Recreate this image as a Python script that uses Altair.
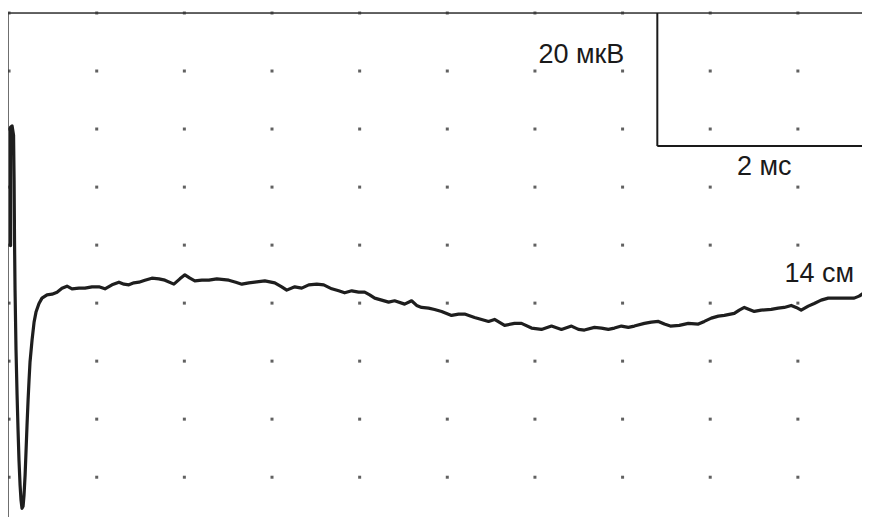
import altair as alt
import pandas as pd

# waveform: time (ms) and amplitude (µV)
wave_t = [0.014, 0.014, 0.028, 0.042, 0.047, 0.051, 0.056, 0.065, 0.075, 0.084, 0.093, 0.103,
          0.112, 0.121, 0.131, 0.140, 0.150, 0.159, 0.168, 0.178, 0.187, 0.196, 0.215, 0.234,
          0.252, 0.280, 0.308, 0.355, 0.402, 0.449, 0.495, 0.542, 0.589, 0.654, 0.710, 0.776,
          0.841, 0.897, 0.963, 1.028, 1.075, 1.121, 1.168, 1.215, 1.271, 1.336, 1.402, 1.458,
          1.542, 1.598, 1.645, 1.692, 1.738, 1.804, 1.869, 1.944, 2.056, 2.121, 2.178, 2.243,
          2.299, 2.393, 2.486, 2.551, 2.598, 2.673, 2.738, 2.804, 2.879, 2.944, 3.019, 3.084,
          3.140, 3.206, 3.271, 3.327, 3.374, 3.421, 3.486, 3.551, 3.607, 3.701, 3.766, 3.813,
          3.860, 3.925, 3.981, 4.047, 4.140, 4.206, 4.262, 4.355, 4.421, 4.486, 4.542, 4.636,
          4.729, 4.794, 4.888, 4.981, 5.075, 5.168, 5.262, 5.327, 5.383, 5.477, 5.542, 5.607,
          5.664, 5.729, 5.794, 5.850, 5.944, 6.009, 6.075, 6.131, 6.187, 6.271, 6.355, 6.449,
          6.505, 6.570, 6.636, 6.692, 6.785, 6.832, 6.879, 6.925, 6.972, 7.037, 7.131, 7.196,
          7.252, 7.318, 7.364, 7.411, 7.477, 7.533, 7.598, 7.664, 7.785, 7.907, 7.953, 8.000,
          8.065]
wave_v = [8.5, 26.3, 26.5, 25.1, 18.3, 9.3, 1.8, -7.2, -14.0, -19.2, -23.8, -27.5,
          -29.8, -31.0, -30.7, -29.0, -26.0, -22.3, -18.5, -14.7, -11.7, -9.0, -5.7, -3.0,
          -1.5, -0.2, 0.6, 1.1, 1.2, 1.5, 2.1, 2.4, 2.0, 2.1, 2.1, 2.3,
          2.3, 2.0, 2.6, 3.0, 2.7, 2.6, 2.9, 3.0, 3.3, 3.6, 3.5, 3.3,
          2.7, 3.5, 4.1, 3.6, 3.2, 3.3, 3.3, 3.5, 3.3, 3.0, 2.7, 2.9,
          3.0, 3.2, 2.9, 2.3, 1.8, 2.3, 2.1, 2.6, 2.7, 2.6, 2.0, 1.7,
          1.4, 1.7, 1.5, 1.5, 1.1, 0.6, 0.3, 0.0, 0.2, -0.3, 0.2, -0.5,
          -0.8, -0.9, -1.1, -1.4, -2.0, -1.8, -1.8, -2.3, -2.6, -2.9, -2.6, -3.5,
          -3.2, -3.2, -3.9, -4.1, -3.6, -4.1, -3.6, -4.1, -4.2, -3.8, -3.9, -4.1,
          -3.9, -3.6, -3.8, -3.6, -3.2, -3.0, -2.9, -3.3, -3.6, -3.5, -3.2, -3.3,
          -2.9, -2.4, -2.1, -2.0, -1.7, -1.2, -0.8, -1.1, -1.4, -1.2, -1.1, -0.9,
          -0.8, -0.5, -0.8, -1.2, -0.6, -0.2, 0.3, 0.6, 0.6, 0.6, 0.9, 1.4,
          1.8]

# screen grid (dots)
grid_t = [0.0, 0.82, 1.64, 2.46, 3.28, 4.10, 4.92, 5.74, 6.56, 7.38]
grid_v = [43.46, 34.74, 26.02, 17.29, 8.57, -0.15, -8.87, -17.59, -26.32]

# calibration bar: 20 µV x 2 ms
bar_t0, bar_t1 = 6.065, 8.065
bar_v0, bar_v1 = 23.46, 43.46

labels = ["20 мкВ", "2 мс", "14 см"]
label_t = [4.953, 7.065, 7.907]
label_v = [35.9, 19.1, 3.0]
label_align = ["left", "center", "right"]

X_DOM = [-0.01, 7.98]
Y_DOM = [-32.3, 43.46]

xs = alt.Scale(domain=X_DOM, nice=False, zero=False)
ys = alt.Scale(domain=Y_DOM, nice=False, zero=False)

wave = pd.DataFrame({"t": wave_t, "v": wave_v, "i": range(len(wave_t))})
grid = pd.DataFrame([{"t": t, "v": v} for t in grid_t for v in grid_v])
lab = pd.DataFrame({"text": labels, "t": label_t, "v": label_v, "align": label_align})

dots = alt.Chart(grid).mark_square(size=9, color="#505050", opacity=0.9).encode(
    x=alt.X("t:Q", scale=xs, axis=None), y=alt.Y("v:Q", scale=ys, axis=None))

border = pd.DataFrame({"x1": [X_DOM[0], X_DOM[0]], "x2": [X_DOM[0], X_DOM[1]],
                       "y1": [Y_DOM[0], Y_DOM[1]], "y2": [Y_DOM[1], Y_DOM[1]]})
frame = alt.Chart(border).mark_rule(color="#333333", strokeWidth=1.3).encode(
    x=alt.X("x1:Q", scale=xs, axis=None), x2="x2:Q",
    y=alt.Y("y1:Q", scale=ys, axis=None), y2="y2:Q")

bar = pd.DataFrame({"x1": [bar_t0, bar_t0], "x2": [bar_t0, bar_t1],
                    "y1": [bar_v1, bar_v0], "y2": [bar_v0, bar_v0]})
calib = alt.Chart(bar).mark_rule(color="#1a1a1a", strokeWidth=2).encode(
    x=alt.X("x1:Q", scale=xs, axis=None), x2="x2:Q",
    y=alt.Y("y1:Q", scale=ys, axis=None), y2="y2:Q")

line = alt.Chart(wave).mark_line(color="#1e1e1e", strokeWidth=3.2, strokeJoin="round",
                                 strokeCap="round", clip=True).encode(
    x=alt.X("t:Q", scale=xs, axis=None), y=alt.Y("v:Q", scale=ys, axis=None), order="i:Q")

texts = []
for al in ["left", "center", "right"]:
    texts.append(alt.Chart(lab[lab["align"] == al]).mark_text(
        align=al, baseline="alphabetic", font="Liberation Sans", fontSize=27, color="#1a1a1a").encode(
        x=alt.X("t:Q", scale=xs, axis=None), y=alt.Y("v:Q", scale=ys, axis=None), text="text:N"))

chart = alt.layer(dots, frame, calib, line, *texts).properties(
    width=854, height=504,
    autosize=alt.AutoSizeParams(type="none"),
    padding={"left": 0, "top": 5, "right": 0, "bottom": 0},
).configure_view(stroke=None).configure(background="white")

chart.save("out.html", embed_options={"renderer": "svg", "actions": False})
